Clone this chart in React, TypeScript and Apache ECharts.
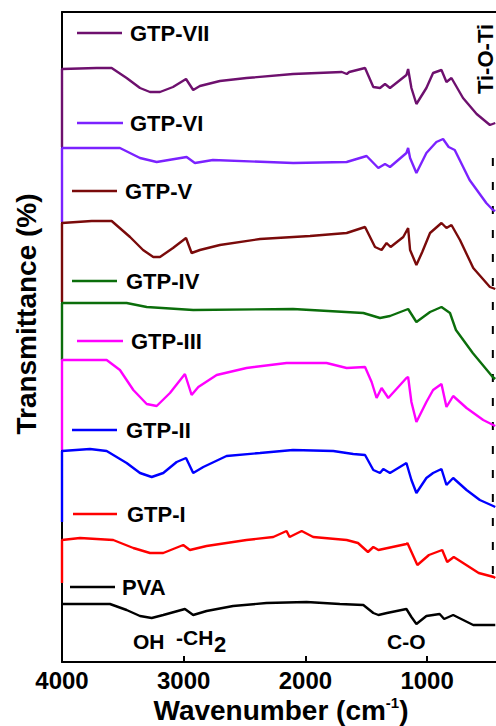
import React, { useEffect, useRef } from "react";
import * as echarts from "echarts";

// ---------- Data (wavenumber cm^-1, stacked transmittance, arbitrary units) ----------
const SERIES_NAMES = ["GTP-VII", "GTP-VI", "GTP-V", "GTP-IV", "GTP-III", "GTP-II", "GTP-I", "PVA"];

const GTP_VII: number[][] = [
  [4000, 515], [4000, 593], [3715, 594], [3592, 594], [3469, 584], [3359, 574], [3277, 570], [3195, 570],
  [3088, 575], [2981, 583], [2922, 572], [2867, 576], [2703, 581], [2484, 584], [2102, 588], [1700, 590],
  [1660, 588], [1640, 590], [1510, 594], [1442, 575], [1387, 574], [1346, 578], [1305, 574], [1170, 587],
  [1156, 593], [1129, 574], [1088, 558], [1006, 574], [951, 589], [882, 592], [841, 580], [800, 584],
  [705, 564], [593, 548], [484, 537], [440, 539],
];
const GTP_VI: number[][] = [
  [4000, 440], [4000, 514], [3524, 514], [3359, 504], [3222, 500], [2976, 505], [2908, 499], [2760, 502],
  [2100, 499], [1661, 500], [1497, 506], [1401, 494], [1346, 498], [1305, 495], [1170, 509], [1156, 514],
  [1140, 504], [1088, 489], [1006, 509], [924, 520], [869, 523], [823, 515], [773, 512], [651, 482],
  [514, 459], [459, 452], [440, 451],
];
const GTP_V: number[][] = [
  [4000, 360], [4000, 439], [3756, 441], [3592, 441], [3441, 425], [3334, 412], [3250, 405], [3195, 405],
  [3088, 414], [2981, 424], [2935, 409], [2867, 412], [2703, 417], [2373, 423], [1962, 426], [1661, 429],
  [1510, 435], [1428, 415], [1374, 412], [1333, 419], [1300, 415], [1196, 425], [1156, 434], [1140, 412],
  [1088, 397], [1040, 410], [976, 429], [882, 439], [841, 434], [800, 437], [730, 422], [621, 394],
  [484, 375], [440, 373],
];
const GTP_IV: number[][] = [
  [4000, 302], [4000, 359], [3469, 359], [3304, 355], [2922, 352], [2102, 353], [1524, 349], [1387, 344],
  [1305, 346], [1156, 353], [1088, 340], [976, 350], [882, 355], [812, 349], [763, 332], [625, 309],
  [461, 285], [440, 283],
];
const GTP_III: number[][] = [
  [4000, 212], [4000, 302], [3633, 302], [3524, 292], [3414, 272], [3304, 258], [3222, 256], [3113, 269],
  [2990, 288], [2935, 267], [2880, 275], [2729, 287], [2484, 294], [2155, 299], [1826, 299], [1661, 294],
  [1510, 295], [1456, 280], [1415, 264], [1374, 274], [1319, 264], [1170, 284], [1156, 285], [1129, 260],
  [1088, 240], [1006, 260], [951, 272], [882, 278], [841, 255], [786, 266], [676, 254], [539, 242],
  [457, 237], [440, 236],
];
const GTP_II: number[][] = [
  [4000, 140], [4000, 211], [3770, 213], [3633, 211], [3469, 199], [3359, 189], [3263, 185], [3168, 189],
  [3058, 200], [2981, 204], [2922, 189], [2839, 195], [2648, 206], [2373, 209], [2102, 212], [1771, 211],
  [1607, 208], [1510, 207], [1442, 192], [1387, 189], [1360, 193], [1305, 189], [1170, 199], [1129, 182],
  [1088, 169], [1006, 184], [951, 189], [882, 193], [841, 177], [786, 184], [676, 172], [567, 162],
  [457, 156], [440, 155],
];
const GTP_I: number[][] = [
  [4000, 79], [4000, 122], [3852, 124], [3579, 122], [3414, 114], [3277, 109], [3168, 109], [3004, 117],
  [2949, 112], [2812, 116], [2484, 122], [2264, 125], [2155, 131], [2130, 125], [2031, 131], [1936, 125],
  [1661, 122], [1568, 119], [1486, 110], [1442, 115], [1400, 112], [1170, 118], [1162, 119], [1080, 97],
  [985, 107], [876, 112], [835, 100], [781, 105], [576, 89], [453, 85], [440, 84],
];
const PVA: number[][] = [
  [4000, 58], [3606, 58], [3469, 52], [3359, 46], [3263, 44], [3168, 47], [2990, 53], [2922, 47],
  [2812, 51], [2594, 56], [2320, 59], [1990, 60], [1717, 58], [1524, 57], [1442, 49], [1400, 47],
  [1330, 49], [1170, 53], [1129, 45], [1088, 38], [1006, 46], [897, 48], [860, 43], [786, 47],
  [621, 37], [457, 37], [440, 37],
];
const SERIES_DATA = [GTP_VII, GTP_VI, GTP_V, GTP_IV, GTP_III, GTP_II, GTP_I, PVA];

const X_TICKS = [4000, 3000, 2000, 1000];
const TI_O_TI_WAVENUMBER = 460;
const TI_O_TI_SPAN = [504, 82];

// ---------- Styles / layout ----------
const COLORS = ["#6E106E", "#7B22FF", "#7A0A0A", "#0B6E0B", "#FF00FF", "#0000FF", "#FF0000", "#000000"];
const FONT = "'Liberation Sans', Arial, sans-serif";
// legend entries: [lineX1, lineX2, y, textX]
const LEGEND_POS = [
  [77, 122, 33, 130],
  [77, 123, 123, 130],
  [72, 117, 191, 125],
  [72, 117, 281, 126],
  [77, 123, 341, 131],
  [72, 117, 430, 126],
  [73, 117, 514, 127],
  [70, 115, 587, 122],
];

export default function App() {
  const ref = useRef<HTMLDivElement>(null);
  useEffect(() => {
    if (!ref.current) return;
    const chart = echarts.init(ref.current, null, { renderer: "svg" });

    const graphics: any[] = [];
    SERIES_NAMES.forEach((name, i) => {
      const [x1, x2, y, tx] = LEGEND_POS[i];
      graphics.push({
        type: "line",
        shape: { x1, y1: y, x2, y2: y },
        style: { stroke: COLORS[i], lineWidth: 2.5 },
      });
      graphics.push({
        type: "text",
        x: tx,
        y: y,
        style: {
          text: name,
          fontSize: 22,
          fontWeight: "bold",
          fontFamily: FONT,
          fill: "#000",
          align: "left",
          verticalAlign: "middle",
        },
      });
    });
    const txt = (text: string, x: number, y: number, size: number) => ({
      type: "text",
      x,
      y,
      style: {
        text,
        fontSize: size,
        fontWeight: "bold",
        fontFamily: FONT,
        fill: "#000",
        align: "left",
        verticalAlign: "middle",
      },
    });
    graphics.push(txt("OH", 133, 641, 21));
    graphics.push(txt("-CH", 176, 637, 21));
    graphics.push(txt("2", 214, 644, 22));
    graphics.push(txt("C-O", 387, 641, 21));
    graphics.push({
      type: "text",
      x: 485,
      y: 59,
      rotation: Math.PI / 2,
      style: {
        text: "Ti-O-Ti",
        fontSize: 22,
        fontWeight: "bold",
        fontFamily: FONT,
        fill: "#000",
        align: "center",
        verticalAlign: "middle",
      },
    });
    graphics.push({
      type: "text",
      x: 26,
      y: 314,
      rotation: Math.PI / 2,
      style: {
        text: "Transmittance (%)",
        fontSize: 28,
        fontWeight: "bold",
        fontFamily: FONT,
        fill: "#000",
        align: "center",
        verticalAlign: "middle",
      },
    });
    graphics.push({
      type: "text",
      x: 281,
      y: 710,
      style: {
        text: "{a|Wavenumber (cm}{s|-1}{a|)}",
        align: "center",
        verticalAlign: "middle",
        rich: {
          a: { fontSize: 28, lineHeight: 30, fontWeight: "bold", fontFamily: FONT, fill: "#000", color: "#000" },
          s: {
            fontSize: 15,
            lineHeight: 30,
            fontWeight: "bold",
            fontFamily: FONT,
            fill: "#000",
            color: "#000",
            verticalAlign: "top",
            padding: [0, 0, 12, 0],
          },
        },
      },
    });

    const series: any[] = SERIES_NAMES.map((name, i) => ({
      name,
      type: "line",
      data: SERIES_DATA[i],
      symbol: "none",
      clip: false,
      z: 3,
      lineStyle: { color: COLORS[i], width: 2.4 },
    }));
    series.push({
      name: "Ti-O-Ti",
      type: "line",
      data: [
        [TI_O_TI_WAVENUMBER, TI_O_TI_SPAN[0]],
        [TI_O_TI_WAVENUMBER, TI_O_TI_SPAN[1]],
      ],
      symbol: "none",
      z: 2,
      lineStyle: { color: "#000", width: 2, type: [8, 16] },
    });

    chart.setOption({
      animation: false,
      backgroundColor: "#fff",
      grid: { left: 62, right: 0, top: 12, bottom: 64 },
      xAxis: [
        {
          type: "value",
          inverse: true,
          min: 434,
          max: 4000,
          position: "bottom",
          splitLine: { show: false },
          axisLine: { show: true, lineStyle: { color: "#000", width: 2 } },
          axisTick: {
            show: true,
            inside: true,
            length: 6,
            customValues: X_TICKS,
            lineStyle: { color: "#000", width: 2 },
          },
          axisLabel: {
            customValues: X_TICKS,
            formatter: (v: number) => String(v),
            fontSize: 24,
            fontWeight: "bold",
            fontFamily: FONT,
            color: "#000",
            margin: 6,
          },
        },
        {
          type: "value",
          inverse: true,
          min: 434,
          max: 4000,
          position: "top",
          splitLine: { show: false },
          axisLine: { show: true, lineStyle: { color: "#000", width: 2 } },
          axisTick: { show: false },
          axisLabel: { show: false },
        },
      ],
      yAxis: {
        type: "value",
        min: 0,
        max: 650,
        splitLine: { show: false },
        axisLine: { show: true, lineStyle: { color: "#000", width: 2 } },
        axisTick: { show: false },
        axisLabel: { show: false },
      },
      series,
      graphic: graphics,
    });
    return () => chart.dispose();
  }, []);
  return (
    <div
      ref={ref}
      style={{ position: "fixed", left: 0, top: 0, width: 496, height: 726, background: "#fff" }}
    />
  );
}
